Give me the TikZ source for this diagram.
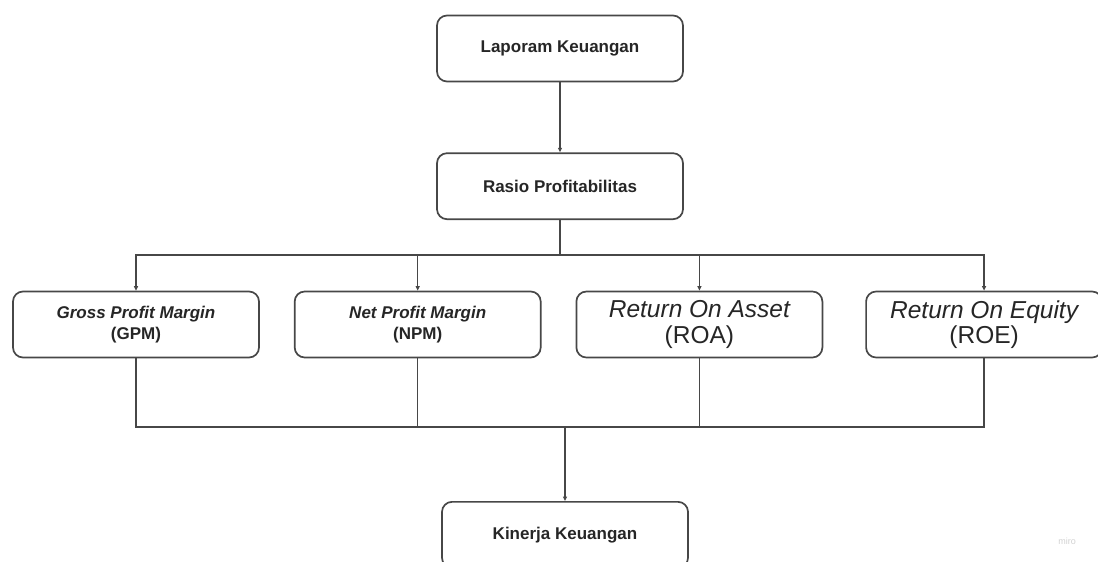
\documentclass[tikz,border=0pt]{standalone}
\usepackage{fontspec}
\setmainfont{Liberation Sans}
\usepackage{tikz}
\usetikzlibrary{positioning,arrows.meta}

\begin{document}
\begin{tikzpicture}[x=1pt,y=1pt,
        kotak/.style={draw=black!72,line width=1.7pt,rounded corners=10pt,fill=white,
            minimum width=246pt,minimum height=66pt,align=center,text=black!85},
        tebal/.style={kotak,font=\fontsize{17}{21}\selectfont\bfseries},
        besar/.style={kotak,font=\fontsize{24.5}{25.5}\selectfont},
        garis/.style={draw=black!72,line width=1.3pt},
        panah/.style={garis,-{Triangle[length=4.5pt,width=4pt]}},
        siku/.style={to path={-| (\tikztotarget)}},
        turun/.style={to path={|- (\tikztotarget)}}]
    \useasboundingbox (0,0) rectangle (1098,-562);
                \node[tebal](lapor) at (560,-48.5){Laporam Keuangan};
                \node[tebal, node distance = 70pt](rasio)[below =of lapor]{Rasio Profitabilitas};
                \coordinate[node distance = 35pt, below =of rasio](split);
    \node[tebal](gpm) at (136,-324.5){\itshape Gross Profit Margin\\(GPM)};
    \node[tebal, node distance = 34pt](npm)[right =of gpm]{\itshape Net Profit Margin\\(NPM)};
    \node[besar, node distance = 34pt](roa)[right =of npm]{\itshape Return On Asset\\(ROA)};
    \node[besar, node distance = 42pt, minimum width=236pt](roe)[right =of roa]{\itshape Return On Equity\\(ROE)};
                \coordinate(merge) at (565,-427);
                \node[tebal, node distance = 74pt](kinerja)[below =of merge]{Kinerja Keuangan};
    \path(lapor) edge[panah] (rasio);
    \path(rasio) edge[garis] (split);
    \path(split) edge[panah,siku] (gpm)
                edge[panah,siku] (npm)
                edge[panah,siku] (roa)
                edge[panah,siku] (roe);
    \path(gpm) edge[garis,turun] (merge)
            (npm) edge[garis,turun] (merge)
            (roa) edge[garis,turun] (merge)
            (roe) edge[garis,turun] (merge);
    \path(merge) edge[panah] (kinerja);
    \node[text=black!18, font=\fontsize{9}{9}\selectfont](miro) at (1067,-541){miro};
            \end{tikzpicture}
\end{document}
